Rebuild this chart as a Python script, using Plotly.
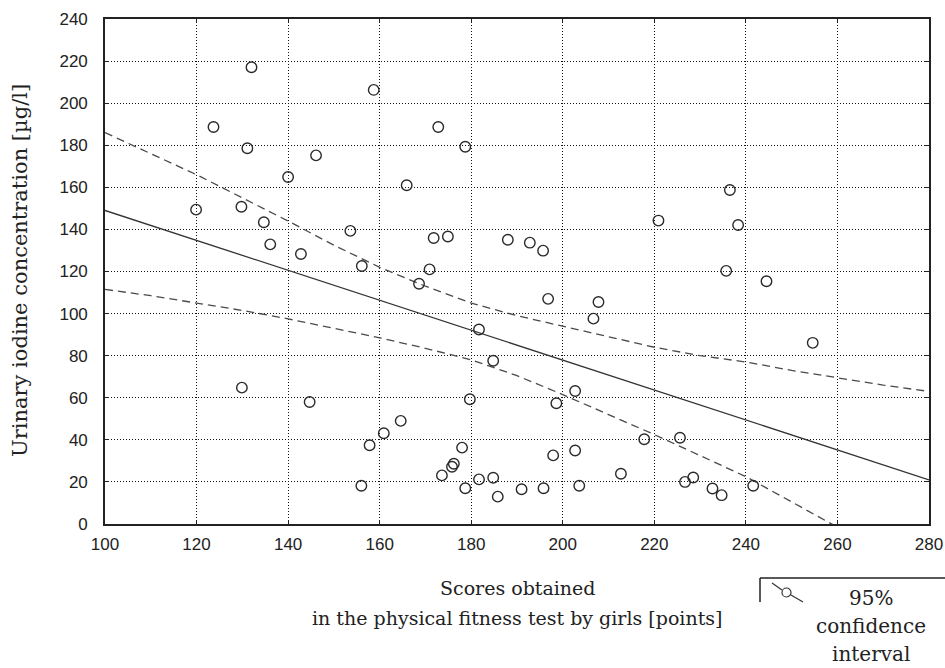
import plotly.graph_objects as go

# ---- data ----
score = [119.9, 123.7, 129.8, 132.0, 131.1, 129.9, 134.7, 136.1, 140.0, 142.8, 144.7, 146.1,
         153.6, 156.1, 156.0, 157.8, 158.7, 160.9, 164.6, 165.9, 168.6, 170.9, 171.8, 172.8,
         173.6, 174.9, 175.8, 176.2, 178.0, 178.7, 178.7, 179.7, 181.7, 181.7, 184.8, 184.8,
         185.8, 188.0, 191.0, 192.8, 195.7, 195.8, 196.8, 197.9, 198.6, 202.7, 202.7, 203.6,
         206.7, 207.8, 212.7, 217.8, 220.9, 225.6, 226.7, 228.5, 232.7, 234.7, 235.7, 236.5,
         238.3, 241.6, 244.5, 254.6]
iodine = [149.4, 188.7, 150.8, 217.1, 178.6, 64.8, 143.4, 132.9, 164.9, 128.3, 58.0, 175.2,
          139.3, 122.6, 18.2, 37.4, 206.3, 43.1, 49.0, 161.0, 114.2, 121.0, 135.9, 188.7,
          23.1, 136.6, 27.2, 28.6, 36.3, 179.3, 17.0, 59.3, 21.2, 92.4, 77.6, 22.0,
          13.0, 135.1, 16.5, 133.7, 129.9, 17.0, 107.0, 32.6, 57.4, 63.2, 34.9, 18.2,
          97.6, 105.5, 23.9, 40.3, 144.2, 41.0, 20.0, 22.1, 16.9, 13.7, 120.3, 158.7,
          142.1, 18.2, 115.4, 86.1]

fit_x = [100, 280]
fit_y = [149.0, 21.0]

band_x = [100, 110, 120, 130, 140, 150, 160, 170, 180, 190, 200, 210, 220, 230, 240, 250, 260, 270, 280]
upper_y = [186.0, 176.0, 166.0, 155.0, 144.0, 132.5, 122.0, 113.0, 105.0, 99.0, 94.0, 89.0, 84.0, 80.0, 77.0, 73.0, 69.5, 66.0, 63.0]
lower_y = [111.5, 108.5, 105.0, 101.5, 97.5, 93.0, 88.5, 83.5, 78.0, 70.5, 61.5, 52.0, 42.5, 32.5, 22.5, 10.5, -1.5, -12.0, -23.0]

x_ticks = [100, 120, 140, 160, 180, 200, 220, 240, 260, 280]
y_ticks = [0, 20, 40, 60, 80, 100, 120, 140, 160, 180, 200, 220, 240]

# ---- figure ----
W, H = 945, 668
L, R, T, B = 105, 16, 19, 144
pw, ph = W - L - R, H - T - B

def px(xp):
    return (xp - L) / pw

def py(yp):
    return (H - B - yp) / ph

fig = go.Figure()
fig.add_trace(go.Scatter(x=band_x, y=upper_y, mode="lines",
                         line=dict(color="#4a4a4a", width=1.3, dash="8px,5px"), showlegend=False))
fig.add_trace(go.Scatter(x=band_x, y=lower_y, mode="lines",
                         line=dict(color="#4a4a4a", width=1.3, dash="8px,5px"), showlegend=False))
fig.add_trace(go.Scatter(x=fit_x, y=fit_y, mode="lines",
                         line=dict(color="#333333", width=1.3), showlegend=False))
fig.add_trace(go.Scatter(x=score, y=iodine, mode="markers",
                         marker=dict(symbol="circle-open", size=10.5, color="#2a2a2a",
                                     line=dict(width=1.4, color="#2a2a2a")),
                         showlegend=False))

axis_common = dict(showline=True, linecolor="#222222", linewidth=1.6, mirror="allticks",
                   ticks="inside", ticklen=4, tickcolor="#222222", showgrid=True,
                   gridcolor="#111111", griddash="1px,2px", gridwidth=1.2, zeroline=False,
                   automargin=False,
                   tickfont=dict(family="Liberation Sans", size=17, color="#222222"))

fig.update_xaxes(range=[100, 280], tickvals=x_ticks, ticklabelstandoff=4, **axis_common)
fig.update_yaxes(range=[0, 240], tickvals=y_ticks, ticklabelstandoff=12, **axis_common)

def serif(size):
    return dict(family="DejaVu Serif", size=size, color="#222222")

ann = [
    dict(text="Urinary iodine concentration [µg/l]", x=px(20), y=py(271), textangle=-90, font=serif(21)),
    dict(text="Scores obtained", x=px(518), y=py(588), font=serif(19)),
    dict(text="in the physical fitness test by girls [points]", x=px(517), y=py(618), font=serif(19)),
    dict(text="95%", x=px(871), y=py(598), font=serif(20)),
    dict(text="confidence", x=px(871), y=py(626), font=serif(20)),
    dict(text="interval", x=px(871), y=py(654), font=serif(20)),
]
for a in ann:
    fig.add_annotation(xref="paper", yref="paper", showarrow=False,
                       xanchor="center", yanchor="middle", **a)

# legend box (bracket) and symbol
fig.add_shape(type="line", xref="paper", yref="paper", x0=px(760), x1=px(945), y0=py(578), y1=py(578),
              line=dict(color="#222222", width=1.5))
fig.add_shape(type="line", xref="paper", yref="paper", x0=px(760), x1=px(760), y0=py(578), y1=py(602),
              line=dict(color="#222222", width=1.5))
fig.add_shape(type="line", xref="paper", yref="paper", x0=px(772), x1=px(782), y0=py(583), y1=py(590),
              line=dict(color="#333333", width=1.2))
fig.add_shape(type="line", xref="paper", yref="paper", x0=px(791), x1=px(803), y0=py(595), y1=py(602),
              line=dict(color="#333333", width=1.2))
fig.add_shape(type="circle", xref="paper", yref="paper", x0=px(782), x1=px(791), y0=py(588), y1=py(597),
              line=dict(color="#333333", width=1.2))

fig.update_layout(width=W, height=H, margin=dict(l=L, r=R, t=T, b=B, autoexpand=False),
                  paper_bgcolor="white", plot_bgcolor="white", showlegend=False)

fig.write_html("out.html")
